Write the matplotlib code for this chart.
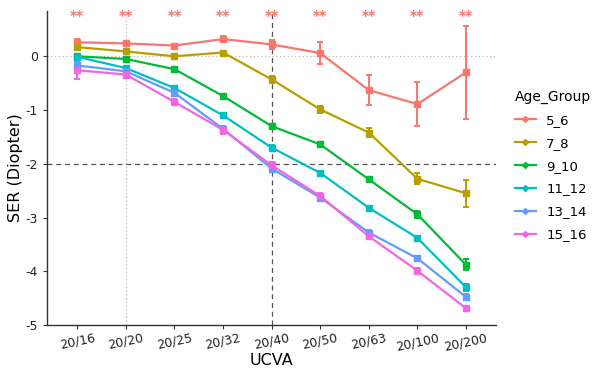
import matplotlib
matplotlib.use("Agg")
import matplotlib.pyplot as plt
from matplotlib.lines import Line2D
import numpy as np

ucva = ["20/16", "20/20", "20/25", "20/32", "20/40", "20/50", "20/63", "20/100", "20/200"]
groups = ["5_6", "7_8", "9_10", "11_12", "13_14", "15_16"]
colors = ["#F8766D", "#B79F00", "#00BA38", "#00BFC4", "#619CFF", "#F564E3"]

ser_5_6 = [0.26, 0.24, 0.20, 0.32, 0.22, 0.06, -0.63, -0.89, -0.30]
err_5_6 = [0.06, 0.03, 0.03, 0.05, 0.09, 0.20, 0.28, 0.41, 0.87]
ser_7_8 = [0.17, 0.09, 0.00, 0.07, -0.43, -0.99, -1.42, -2.28, -2.55]
err_7_8 = [0.03, 0.03, 0.03, 0.03, 0.07, 0.06, 0.08, 0.10, 0.25]
ser_9_10 = [0.00, -0.05, -0.24, -0.74, -1.30, -1.64, -2.29, -2.94, -3.88]
err_9_10 = [0.02, 0.02, 0.03, 0.03, 0.04, 0.04, 0.04, 0.06, 0.10]
ser_11_12 = [-0.01, -0.22, -0.59, -1.10, -1.70, -2.17, -2.82, -3.38, -4.30]
err_11_12 = [0.03, 0.03, 0.04, 0.03, 0.04, 0.03, 0.03, 0.04, 0.06]
ser_13_14 = [-0.17, -0.28, -0.68, -1.35, -2.09, -2.63, -3.28, -3.76, -4.48]
err_13_14 = [0.05, 0.03, 0.05, 0.05, 0.06, 0.04, 0.04, 0.04, 0.05]
ser_15_16 = [-0.26, -0.34, -0.85, -1.37, -2.03, -2.60, -3.35, -3.99, -4.69]
err_15_16 = [0.16, 0.04, 0.06, 0.08, 0.07, 0.05, 0.04, 0.05, 0.05]

series = [ser_5_6, ser_7_8, ser_9_10, ser_11_12, ser_13_14, ser_15_16]
errors = [err_5_6, err_7_8, err_9_10, err_11_12, err_13_14, err_15_16]
sig_label = "**"

fig = plt.figure(figsize=(5.97, 3.71), dpi=100)
ax = fig.add_axes([0.079, 0.124, 0.752, 0.846])

x = np.arange(1, len(ucva) + 1)

ax.axhline(0, color="#BBBBBB", lw=0.9, ls=(0, (1, 2)), zorder=0)
ax.axvline(2, color="#BBBBBB", lw=0.9, ls=(0, (1, 2)), zorder=0)
ax.axhline(-2, color="#555555", lw=0.9, ls=(0, (4, 3)), zorder=0)
ax.axvline(5, color="#555555", lw=0.9, ls=(0, (4, 3)), zorder=0)

for g, c, s, e in zip(groups, colors, series, errors):
    ax.errorbar(x, s, yerr=e, color=c, lw=1.6, marker="s", ms=4.5,
                capsize=2.5, elinewidth=1.4, capthick=1.4, zorder=3)

for xi in x:
    ax.text(xi, 0.75, sig_label, color="#F8766D", ha="center", va="center",
            fontsize=10, fontweight="bold")

ax.set_xlim(0.38, 9.62)
ax.set_ylim(-5.0, 0.84)
ax.set_xticks(x)
ax.set_xticklabels(ucva, rotation=12, fontsize=9, color="#222222")
ax.set_yticks([0, -1, -2, -3, -4, -5])
ax.set_yticklabels(["0", "-1", "-2", "-3", "-4", "-5"], fontsize=9, color="#222222")
ax.set_xlabel("UCVA", fontsize=11.5, labelpad=0)
ax.set_ylabel("SER (Diopter)", fontsize=11.5, labelpad=2)
for sp in ["top", "right"]:
    ax.spines[sp].set_visible(False)
for sp in ["left", "bottom"]:
    ax.spines[sp].set_color("#333333")
    ax.spines[sp].set_linewidth(1.0)
ax.tick_params(length=3, color="#333333", width=0.8)
ax.tick_params(axis="x", pad=1.5)

handles = [Line2D([0], [0], color=c, lw=1.6, marker="D", ms=3) for c in colors]
leg = fig.legend(handles, groups, title="Age_Group", loc="upper left",
                 bbox_to_anchor=(0.842, 0.79), frameon=False, fontsize=9.5,
                 title_fontsize=10, handlelength=1.6, labelspacing=0.75,
                 alignment="left")

fig.savefig("out.png", dpi=100)
